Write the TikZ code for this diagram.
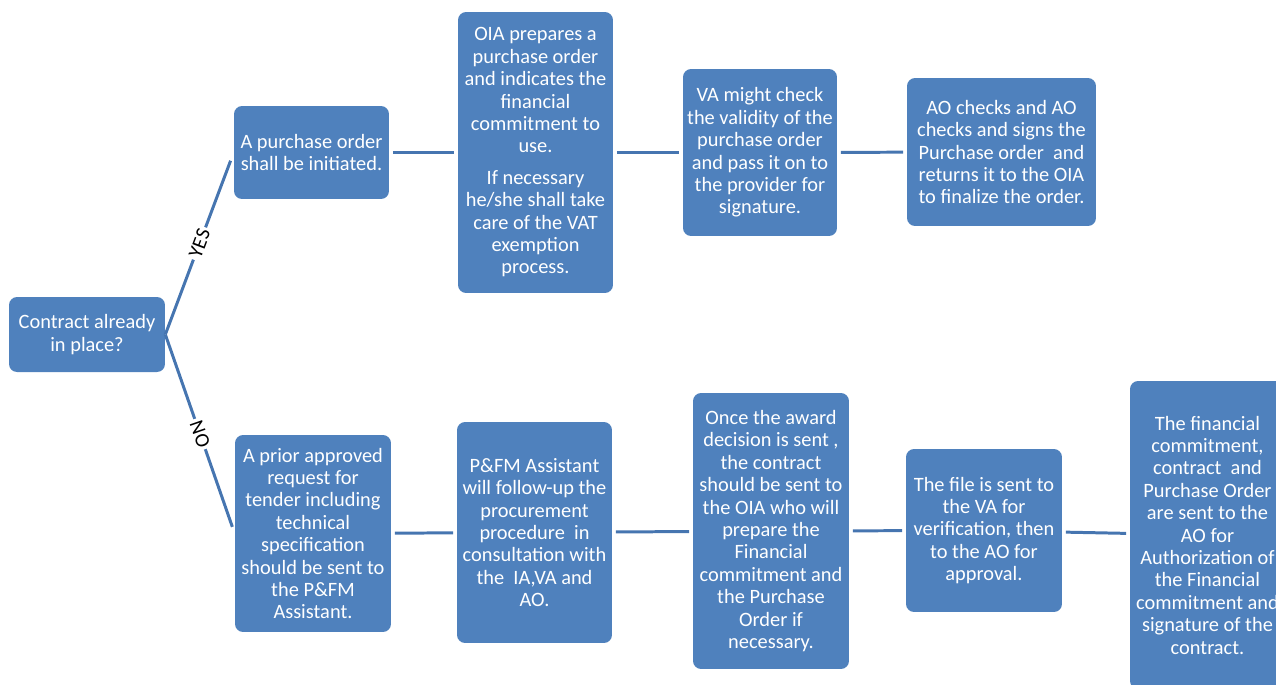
\documentclass[tikz,border=0pt]{standalone}
\usepackage{fontspec}
\setmainfont{Carlito}
\usepackage{tikz}
\definecolor{boxblue}{HTML}{4F81BD}
\definecolor{lineblue}{HTML}{4675B0}

\begin{document}
\begin{tikzpicture}[x=0.02cm, y=-0.02cm,
  stepbox/.style={fill=boxblue, rounded corners=0.16cm, text=white, align=center, inner sep=1pt, font=\fontsize{11.6}{12.75}\selectfont},
  link/.style={draw=lineblue, line width=1.7pt, shorten <=2pt, shorten >=2pt},
  answer/.style={midway, sloped, fill=white, inner sep=1.5pt, text=black, font=\fontsize{11.6}{12}\selectfont}]
  \useasboundingbox (0,0) rectangle (1276,684);

  \node[stepbox, minimum width=3.12cm, minimum height=1.5cm] (question) at (87,334.5) {Contract already\\in place?};

  \node[stepbox, minimum width=3.1cm, minimum height=1.86cm] (yesorder) at (311.5,152.5) {A purchase order\\shall be initiated.};
  \node[stepbox, minimum width=3.1cm, minimum height=5.62cm] (yesoia) at (535.5,152.5) {OIA prepares a\\purchase order\\and indicates the\\financial\\commitment to\\use.\\[0.18cm]If necessary\\he/she shall take\\care of the VAT\\exemption\\process.};
  \node[stepbox, minimum width=3.08cm, minimum height=3.34cm] (yesva) at (760,152.5) {VA might check\\the validity of the\\purchase order\\and pass it on to\\the provider for\\signature.};
  \node[stepbox, minimum width=3.78cm, minimum height=2.96cm] (yesao) at (1001.5,152) {AO checks and AO\\checks and signs the\\Purchase order~ and\\returns it to the OIA\\to finalize the order.};

  \node[stepbox, minimum width=3.12cm, minimum height=3.94cm] (notender) at (313,533.5) {A prior approved\\request for\\tender including\\technical\\specification\\should be sent to\\the P\&FM\\Assistant.};
  \node[stepbox, minimum width=3.1cm, minimum height=4.42cm] (nopfm) at (534.5,532.5) {P\&FM Assistant\\will follow-up the\\procurement\\procedure~ in\\consultation with\\the~ IA,VA and\\AO.};
  \node[stepbox, minimum width=3.12cm, minimum height=5.52cm] (noaward) at (771,531) {Once the award\\decision is sent ,\\the contract\\should be sent to\\the OIA who will\\prepare the\\Financial\\commitment and\\the Purchase\\Order if\\necessary.};
  \node[stepbox, minimum width=3.12cm, minimum height=3.26cm] (nofile) at (984,530.5) {The file is sent to\\the VA for\\verification, then\\to the AO for\\approval.};
  \node[stepbox, minimum width=3.1cm, minimum height=6.16cm] (nosign) at (1207.5,535) {The financial\\commitment,\\contract~ and\\Purchase Order\\are sent to the\\AO for\\Authorization of\\the Financial\\commitment and\\signature of the\\contract.};

  \draw[link, shorten <=0pt, shorten >=5pt] (question.east) -- (yesorder.west) node[answer] {YES};
  \draw[link, shorten <=0pt, shorten >=4pt] (question.east) -- (notender.west) node[answer] {NO};

  \draw[link] (yesorder) -- (yesoia);
  \draw[link] (yesoia) -- (yesva);
  \draw[link] (yesva) -- (yesao);

  \draw[link] (notender) -- (nopfm);
  \draw[link] (nopfm) -- (noaward);
  \draw[link] (noaward) -- (nofile);
  \draw[link] (nofile) -- (nosign);
\end{tikzpicture}
\end{document}
